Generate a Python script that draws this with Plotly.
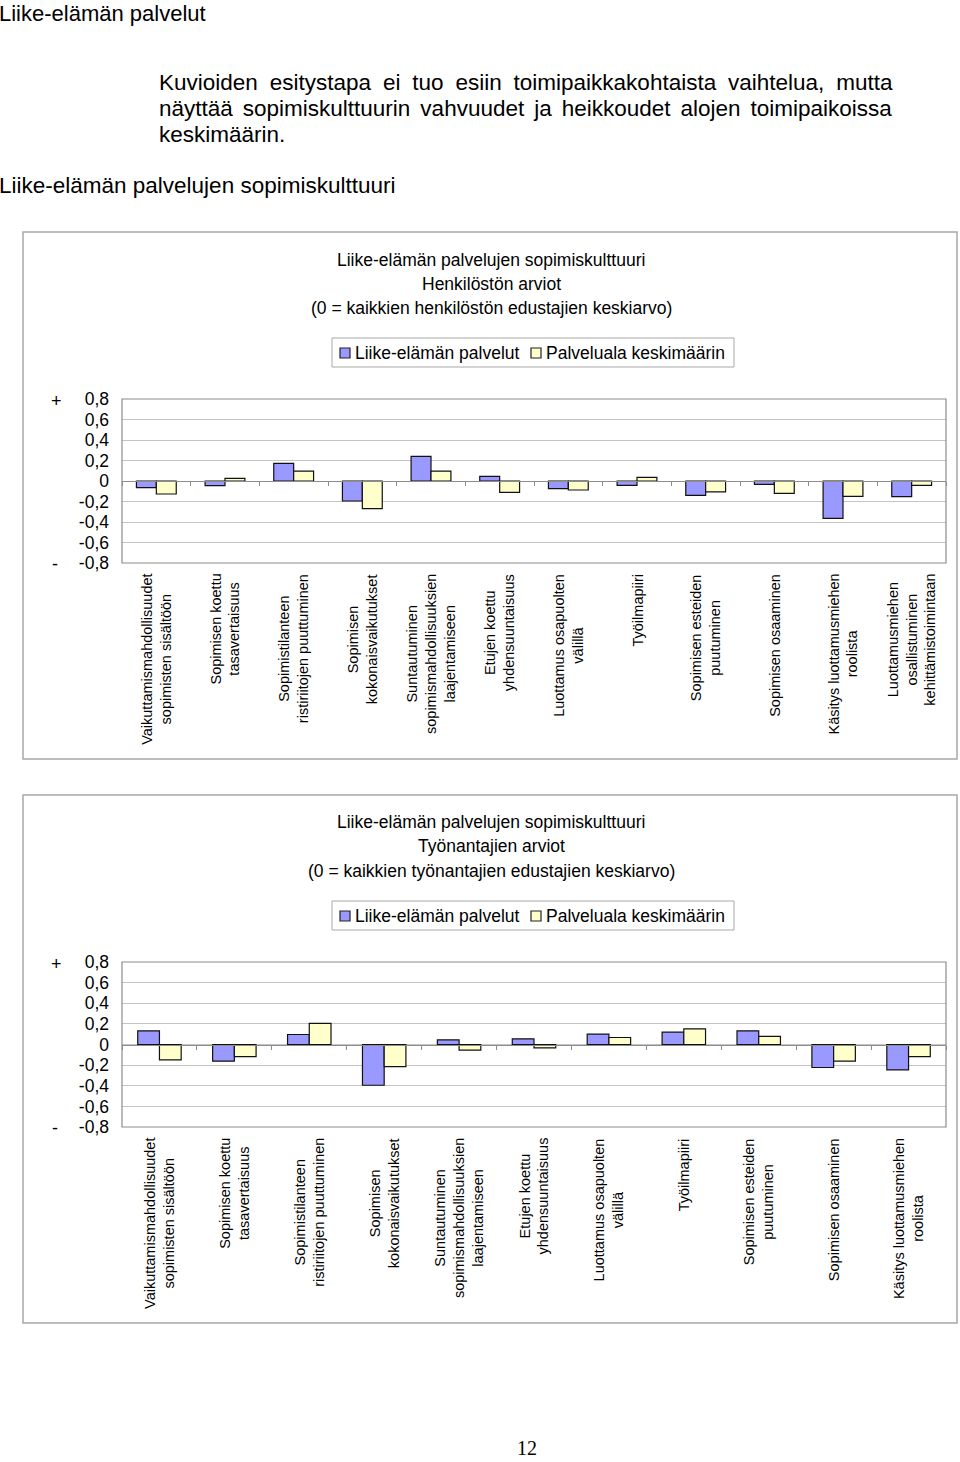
import plotly.graph_objects as go

W, H = 960, 1462


def px(xp):
    return xp / W


def py(yp):
    return 1 - yp / H


# ---------------- data ----------------
categories = [
    "Vaikuttamismahdollisuudet<br>sopimisten sisältöön",
    "Sopimisen koettu<br>tasavertaisuus",
    "Sopimistilanteen<br>ristiriitojen puuttuminen",
    "Sopimisen<br>kokonaisvaikutukset",
    "Suntautuminen<br>sopimismahdollisuuksien<br>laajentamiseen",
    "Etujen koettu<br>yhdensuuntaisuus",
    "Luottamus osapuolten<br>välillä",
    "Työilmapiiri",
    "Sopimisen esteiden<br>puutuminen",
    "Sopimisen osaaminen",
    "Käsitys luottamusmiehen<br>roolista",
    "Luottamusmiehen<br>osallistuminen<br>kehittämistoimintaan",
]
categories_tyonantajat = categories[:11]

series_names = ["Liike-elämän palvelut", "Palveluala keskimäärin"]

henkilosto_liike = [-0.065, -0.045, 0.172, -0.195, 0.24, 0.045, -0.075, -0.042, -0.14, -0.032, -0.364, -0.153]
henkilosto_palvelu = [-0.127, 0.026, 0.097, -0.27, 0.097, -0.11, -0.088, 0.036, -0.107, -0.12, -0.15, -0.042]

tyonantaja_liike = [0.133, -0.162, 0.097, -0.395, 0.045, 0.055, 0.10, 0.12, 0.133, -0.223, -0.246]
tyonantaja_palvelu = [-0.149, -0.117, 0.204, -0.214, -0.055, -0.032, 0.068, 0.152, 0.078, -0.162, -0.117]

tick_vals = [-0.8, -0.6, -0.4, -0.2, 0, 0.2, 0.4, 0.6, 0.8]
tick_text = ["-0,8", "-0,6", "-0,4", "-0,2", "0", "0,2", "0,4", "0,6", "0,8"]

titles_henkilosto = [
    "Liike-elämän palvelujen sopimiskulttuuri",
    "Henkilöstön arviot",
    "(0 = kaikkien henkilöstön edustajien keskiarvo)",
]
titles_tyonantajat = [
    "Liike-elämän palvelujen sopimiskulttuuri",
    "Työnantajien arviot",
    "(0 = kaikkien työnantajien edustajien keskiarvo)",
]

page_title = "Liike-elämän palvelut"
# extra narrow spaces emulate the justified paragraph of the original
paragraph_lines = [
    "Kuvioiden\u2005 esitystapa\u2005 ei\u2005 tuo\u2005 esiin\u2005 toimipaikkakohtaista\u2005 vaihtelua,\u2005 mutta",
    "näyttää\u2006 sopimiskulttuurin\u2006 vahvuudet\u2006 ja\u2006 heikkoudet\u2006 alojen\u2006 toimipaikoissa",
    "keskimäärin.",
]
section_title = "Liike-elämän palvelujen sopimiskulttuuri"
page_number = "12"

# ---------------- styles ----------------
FONT = "Liberation Sans, Arial, sans-serif"
bar_colors = ["#9999FF", "#FFFFCC"]
GRID = "#c4c4c4"
FRAME = "#8c8c8c"
BOX = "#a8a8a8"

charts = [
    dict(cats=categories, vals=[henkilosto_liike, henkilosto_palvelu], ax="",
         top=399, bottom=563, box=(23, 232, 957, 759), titles=titles_henkilosto,
         title_y=[260, 284, 308], legend_top=338),
    dict(cats=categories_tyonantajat, vals=[tyonantaja_liike, tyonantaja_palvelu], ax="2",
         top=962, bottom=1127, box=(23, 795, 957, 1323), titles=titles_tyonantajat,
         title_y=[822, 846, 871], legend_top=901),
]

fig = go.Figure()
annotations = []
shapes = []
layout_extra = {}

for ch in charts:
    n = ch["ax"]
    xname = "x" + n
    yname = "y" + n
    for k in range(2):
        fig.add_trace(go.Bar(
            x=ch["cats"], y=ch["vals"][k], name=series_names[k],
            marker=dict(color=bar_colors[k], line=dict(color="#111111", width=1.2)),
            xaxis=xname, yaxis=yname, showlegend=False, hoverinfo="skip",
        ))
    ydom = [py(ch["bottom"]), py(ch["top"])]
    layout_extra["xaxis" + n] = dict(
        domain=[px(122), px(946)], anchor="free", position=(ydom[0] + ydom[1]) / 2,
        showticklabels=False, ticks="outside", tickson="boundaries", ticklen=4,
        tickcolor=FRAME, showline=True, linecolor=FRAME, linewidth=1, showgrid=False,
        zeroline=False, fixedrange=True, automargin=False,
    )
    layout_extra["yaxis" + n] = dict(
        domain=ydom, anchor=xname, range=[-0.8, 0.8], tickvals=tick_vals, ticktext=tick_text,
        showgrid=True, gridcolor=GRID, gridwidth=1, zeroline=False, ticks="",
        ticklabelstandoff=12, tickfont=dict(size=17.5, color="black"),
        showline=False, fixedrange=True, automargin=False,
    )
    # plot frame
    shapes.append(dict(type="rect", xref=xname + " domain", yref=yname + " domain",
                       x0=0, x1=1, y0=0, y1=1, line=dict(color=FRAME, width=1.2), layer="above"))
    # chart box
    bx0, by0, bx1, by1 = ch["box"]
    shapes.append(dict(type="rect", xref="paper", yref="paper", x0=px(bx0), x1=px(bx1),
                       y0=py(by1), y1=py(by0), line=dict(color=BOX, width=1.5)))
    # legend (box, swatches, texts)
    lt = ch["legend_top"]
    shapes.append(dict(type="rect", xref="paper", yref="paper", x0=px(332), x1=px(734),
                       y0=py(lt + 29), y1=py(lt), line=dict(color=BOX, width=1), fillcolor="white"))
    for k, (sx, tx) in enumerate([(340, 356), (531, 547)]):
        shapes.append(dict(type="rect", xref="paper", yref="paper", x0=px(sx), x1=px(sx + 10),
                           y0=py(lt + 20), y1=py(lt + 10), fillcolor=bar_colors[k],
                           line=dict(color="#222222", width=1.2)))
        annotations.append(dict(text=series_names[k], x=px(tx - 3), y=py(lt + 15), xref="paper",
                                yref="paper", xanchor="left", yanchor="middle", showarrow=False,
                                font=dict(size=17.5, color="black")))
    # titles
    for t, ty in zip(ch["titles"], ch["title_y"]):
        annotations.append(dict(text=t, x=px(491), y=py(ty), xref="paper", yref="paper",
                                xanchor="center", yanchor="middle", showarrow=False,
                                font=dict(size=17.5, color="black")))
    # + / - markers
    annotations.append(dict(text="+", x=px(56), y=py(ch["top"] + 2), xref="paper", yref="paper",
                            xanchor="center", yanchor="middle", showarrow=False,
                            font=dict(size=18, color="black")))
    annotations.append(dict(text="-", x=px(55), y=py(ch["bottom"] + 1), xref="paper", yref="paper",
                            xanchor="center", yanchor="middle", showarrow=False,
                            font=dict(size=18, color="black")))
    # category labels
    for c in ch["cats"]:
        annotations.append(dict(text=c, x=c, xref=xname, y=py(ch["bottom"] + 9), yref="paper",
                                xanchor="center", yanchor="top", textangle=-90, align="center",
                                showarrow=False, font=dict(size=14.5, color="black")))

# page texts
annotations.append(dict(text=page_title, x=px(-3), y=py(13), xref="paper", yref="paper",
                        xanchor="left", yanchor="middle", showarrow=False,
                        font=dict(size=22, color="black")))
for i, line in enumerate(paragraph_lines):
    annotations.append(dict(text=line, x=px(157), y=py(82 + 26 * i), xref="paper", yref="paper",
                            xanchor="left", yanchor="middle", showarrow=False,
                            font=dict(size=22.5, color="black")))
annotations.append(dict(text=section_title, x=px(-3), y=py(186), xref="paper", yref="paper",
                        xanchor="left", yanchor="middle", showarrow=False,
                        font=dict(size=22.5, color="black")))
annotations.append(dict(text=page_number, x=px(527), y=py(1448), xref="paper", yref="paper",
                        xanchor="center", yanchor="middle", showarrow=False,
                        font=dict(size=20, color="black", family="Liberation Serif, Times New Roman, serif")))

fig.update_layout(
    width=W, height=H, margin=dict(l=0, r=0, t=0, b=0, pad=0, autoexpand=False), autosize=False,
    paper_bgcolor="white", plot_bgcolor="white",
    font=dict(family=FONT, color="black"),
    barmode="group", bargap=0.42, bargroupgap=0,
    annotations=annotations, shapes=shapes, showlegend=False,
    **layout_extra,
)

pin_script = (
    "document.documentElement.style.margin='0';"
    "document.body.style.margin='0';"
    "document.documentElement.style.overflow='hidden';"
    "var gd=document.getElementById('{plot_id}');"
    "gd.style.position='fixed';gd.style.top='0px';gd.style.left='0px';"
)

fig.write_html("out.html", config={"displayModeBar": False, "responsive": False},
               post_script=pin_script)
